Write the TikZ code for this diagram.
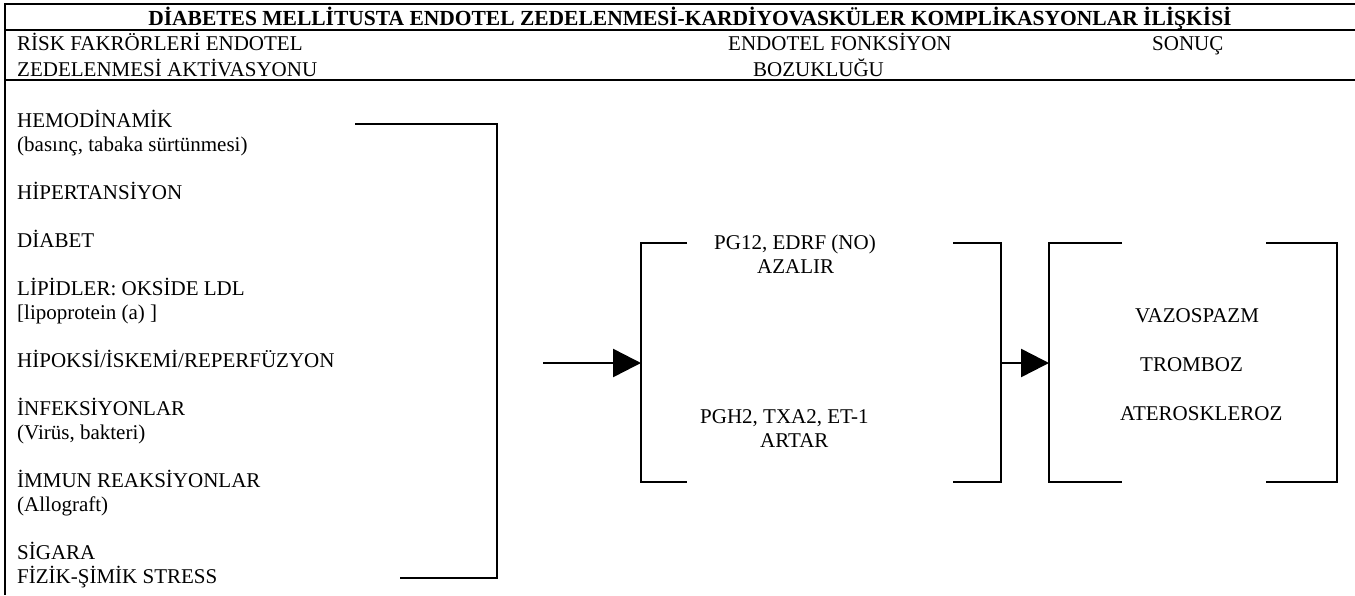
\documentclass[tikz,border=0pt]{standalone}
\usepackage{fontspec}
\setmainfont{Liberation Serif}
\usetikzlibrary{arrows.meta}
\tikzset{
  txt/.style={anchor=base west, inner sep=0pt, font=\fontsize{21}{24}\selectfont},
  ttl/.style={anchor=base, inner sep=0pt, font=\fontsize{21.5}{24}\selectfont\bfseries},
  rule/.style={line width=2.2pt},
  brk/.style={line width=1.6pt},
  arr/.style={line width=2.5pt, -{Triangle[length=28pt,width=28pt]}}
}
\begin{document}
\begin{tikzpicture}[x=1pt,y=-1pt]
\useasboundingbox (0,0) rectangle (1355,595);
% table rules
\draw[rule] (5,4) -- (1355,4);
\draw[rule] (5,30) -- (1355,30);
\draw[rule] (5,80) -- (1355,80);
\draw[rule] (5,3) -- (5,595);
% title and header
\node[ttl] (title) at (690,25) {DİABETES MELLİTUSTA ENDOTEL ZEDELENMESİ-KARDİYOVASKÜLER KOMPLİKASYONLAR İLİŞKİSİ};
\node[txt] (h1a) at (17,50) {RİSK FAKRÖRLERİ ENDOTEL};
\node[txt] (h1b) at (17,76) {ZEDELENMESİ AKTİVASYONU};
\node[txt] (h2a) at (728,50) {ENDOTEL FONKSİYON};
\node[txt] (h2b) at (753,76) {BOZUKLUĞU};
\node[txt] (h3) at (1152,50) {SONUÇ};
% risk factors
\node[txt] (r1a) at (17,127) {HEMODİNAMİK};
\node[txt] (r1b) at (17,151) {(basınç, tabaka sürtünmesi)};
\node[txt] (r2) at (17,199) {HİPERTANSİYON};
\node[txt] (r3) at (17,247) {DİABET};
\node[txt] (r4a) at (17,295) {LİPİDLER: OKSİDE LDL};
\node[txt] (r4b) at (17,319) {[lipoprotein (a) ]};
\node[txt] (r5) at (17,367) {HİPOKSİ/İSKEMİ/REPERFÜZYON};
\node[txt] (r6a) at (17,415) {İNFEKSİYONLAR};
\node[txt] (r6b) at (17,439) {(Virüs, bakteri)};
\node[txt] (r7a) at (17,487) {İMMUN REAKSİYONLAR};
\node[txt] (r7b) at (17,511) {(Allograft)};
\node[txt] (r8a) at (17,559) {SİGARA};
\node[txt] (r8b) at (17,583) {FİZİK-ŞİMİK STRESS};
% bracket 1
\draw[brk] (355,124) -- (497,124) -- (497,578) -- (400,578);
% bracket 2
\draw[brk] (687,243) -- (641,243) -- (641,482) -- (687,482);
\draw[brk] (953,243) -- (1001,243) -- (1001,482) -- (953,482);
\node[txt] (e1a) at (714,249) {PG12, EDRF (NO)};
\node[txt] (e1b) at (757,273) {AZALIR};
\node[txt] (e2a) at (700,423) {PGH2, TXA2, ET-1};
\node[txt] (e2b) at (760,447) {ARTAR};
% bracket 3
\draw[brk] (1122,243) -- (1049,243) -- (1049,482) -- (1122,482);
\draw[brk] (1266,243) -- (1337,243) -- (1337,482) -- (1266,482);
\node[txt] (s1) at (1135,322) {VAZOSPAZM};
\node[txt] (s2) at (1140,371) {TROMBOZ};
\node[txt] (s3) at (1120,420) {ATEROSKLEROZ};
% arrows
\coordinate (a1s) at (543,363);
\coordinate (b2l) at (641,363);
\coordinate (b2r) at (1001,363);
\coordinate (b3l) at (1049,363);
\draw[arr] (a1s) -- (b2l);
\draw[arr] (b2r) -- (b3l);
\end{tikzpicture}
\end{document}
